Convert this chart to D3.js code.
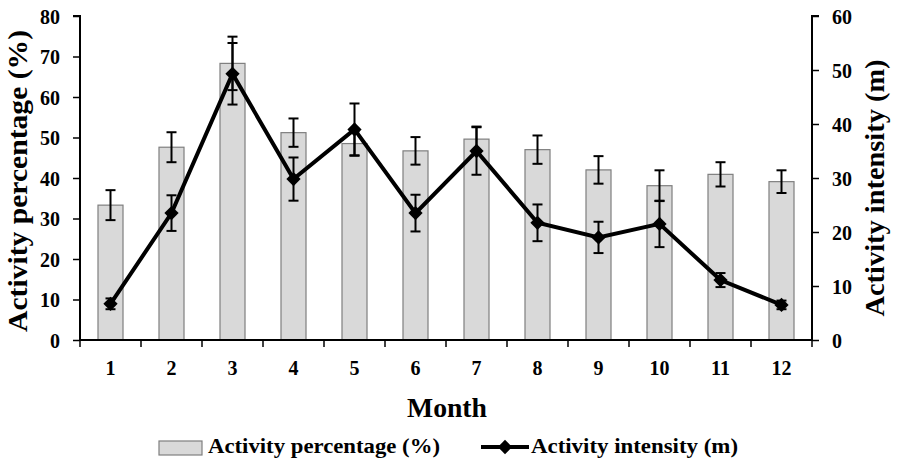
<!DOCTYPE html>
<html>
<head>
<meta charset="utf-8">
<script src="https://cdn.jsdelivr.net/npm/d3@7"></script>
<style>
  body { margin: 0; background: #fff; }
  svg text { font-family: "Liberation Serif", "Times New Roman", serif; font-weight: bold; fill: #000; }
</style>
</head>
<body>
<svg id="chart" width="898" height="464"></svg>
<script>
// données
const months = [1, 2, 3, 4, 5, 6, 7, 8, 9, 10, 11, 12];
const pctValues = [33.3, 47.6, 68.3, 51.2, 48.5, 46.7, 49.6, 47.0, 42.0, 38.1, 40.9, 39.1];
const pctErrors = [3.7, 3.7, 6.6, 3.5, 3.0, 3.4, 3.1, 3.5, 3.4, 3.8, 3.0, 2.8];
const intValues = [6.7, 23.5, 49.3, 29.8, 39.0, 23.5, 35.0, 21.7, 19.0, 21.5, 11.1, 6.5];
const intErrors = [1.0, 3.3, 5.7, 4.0, 4.8, 3.4, 4.4, 3.4, 2.9, 4.3, 1.3, 0.8];
const leftTicks = [0, 10, 20, 30, 40, 50, 60, 70, 80];
const rightTicks = [0, 10, 20, 30, 40, 50, 60];

const svg = d3.select("#chart");
const plot = { left: 80, right: 812, top: 16, bottom: 340 };

const x = d3.scaleBand()
    .domain(months)
    .range([plot.left, plot.right])
    .paddingInner(0)
    .paddingOuter(0);
const barW = x.bandwidth() * 0.41;

const yL = d3.scaleLinear().domain([0, 80]).range([plot.bottom, plot.top]);
const yR = d3.scaleLinear().domain([0, 60]).range([plot.bottom, plot.top]);

const cx = d => x(d) + x.bandwidth() / 2;

// barres
svg.append("g").selectAll("rect")
    .data(months)
    .enter()
    .append("rect")
    .attr("x", (d) => cx(d) - barW / 2)
    .attr("y", (d, i) => yL(pctValues[i]))
    .attr("width", barW)
    .attr("height", (d, i) => plot.bottom - yL(pctValues[i]))
    .attr("fill", "#d9d9d9")
    .attr("stroke", "#7f7f7f")
    .attr("stroke-width", 1.2);

function errorBars(values, errors, scale) {
    const g = svg.append("g").attr("stroke", "#000").attr("stroke-width", 2);
    months.forEach((m, i) => {
        const xc = cx(m);
        const top = scale(values[i] + errors[i]);
        const bot = scale(values[i] - errors[i]);
        g.append("line").attr("x1", xc).attr("x2", xc).attr("y1", top).attr("y2", bot);
        g.append("line").attr("x1", xc - 5).attr("x2", xc + 5).attr("y1", top).attr("y2", top);
        g.append("line").attr("x1", xc - 5).attr("x2", xc + 5).attr("y1", bot).attr("y2", bot);
    });
}
errorBars(pctValues, pctErrors, yL);
errorBars(intValues, intErrors, yR);

// ligne intensité
const line = d3.line()
    .x((d, i) => cx(months[i]))
    .y(d => yR(d));
svg.append("path")
    .datum(intValues)
    .attr("d", line)
    .attr("fill", "none")
    .attr("stroke", "#000")
    .attr("stroke-width", 4);

const diamond = d3.symbol().type(d3.symbolDiamond2).size(130);
svg.append("g").selectAll("path")
    .data(intValues)
    .enter()
    .append("path")
    .attr("d", diamond)
    .attr("transform", (d, i) => `translate(${cx(months[i])},${yR(d)})`)
    .attr("fill", "#000");

// axes
const axisL = svg.append("g")
    .attr("transform", `translate(${plot.left},0)`)
    .call(d3.axisLeft(yL).tickValues(leftTicks).tickSize(7).tickPadding(13));
const axisR = svg.append("g")
    .attr("transform", `translate(${plot.right},0)`)
    .call(d3.axisRight(yR).tickValues(rightTicks).tickSize(7).tickPadding(13));

const xTickPos = d3.range(months.length + 1).map(i => plot.left + i * x.bandwidth());
const axisX = svg.append("g");
axisX.append("line")
    .attr("x1", plot.left).attr("x2", plot.right)
    .attr("y1", plot.bottom).attr("y2", plot.bottom)
    .attr("stroke", "#000").attr("stroke-width", 2);
axisX.selectAll(".xt")
    .data(xTickPos)
    .enter()
    .append("line")
    .attr("x1", d => d).attr("x2", d => d)
    .attr("y1", plot.bottom).attr("y2", plot.bottom + 7)
    .attr("stroke", "#000").attr("stroke-width", 1.5);
axisX.selectAll("text")
    .data(months)
    .enter()
    .append("text")
    .attr("x", d => cx(d))
    .attr("y", 375)
    .attr("text-anchor", "middle")
    .style("font-size", "20px")
    .text(d => d);

[axisL, axisR].forEach(a => {
    a.select(".domain").attr("stroke", "#000").attr("stroke-width", 2);
    a.selectAll(".tick line").attr("stroke", "#000").attr("stroke-width", 1.5);
    a.selectAll(".tick text")
        .style("font-size", "20px")
        .style("font-family", "Liberation Serif")
        .style("font-weight", "bold")
        .attr("dy", "0.35em");
});
axisL.select(".domain").attr("d", `M-7,${plot.top}H0V${plot.bottom}`);
axisR.select(".domain").attr("d", `M7,${plot.top}H0V${plot.bottom}`);

// titres
svg.append("text")
    .attr("transform", "translate(27,181) rotate(-90)")
    .attr("text-anchor", "middle")
    .attr("textLength", 302).attr("lengthAdjust", "spacingAndGlyphs")
    .style("font-size", "27px")
    .text("Activity percentage (%)");
svg.append("text")
    .attr("transform", "translate(884,188) rotate(-90)")
    .attr("text-anchor", "middle")
    .attr("textLength", 257).attr("lengthAdjust", "spacingAndGlyphs")
    .style("font-size", "27px")
    .text("Activity intensity (m)");
svg.append("text")
    .attr("x", 447)
    .attr("y", 417)
    .attr("text-anchor", "middle")
    .attr("textLength", 80).attr("lengthAdjust", "spacingAndGlyphs")
    .style("font-size", "28px")
    .text("Month");

// légende
const leg = svg.append("g");
leg.append("rect")
    .attr("x", 159).attr("y", 441).attr("width", 43).attr("height", 14)
    .attr("fill", "#d9d9d9").attr("stroke", "#7f7f7f").attr("stroke-width", 1.2);
leg.append("text")
    .attr("x", 208).attr("y", 453)
    .attr("textLength", 232).attr("lengthAdjust", "spacingAndGlyphs")
    .style("font-size", "20px")
    .text("Activity percentage (%)");
leg.append("line")
    .attr("x1", 481).attr("x2", 529).attr("y1", 447).attr("y2", 447)
    .attr("stroke", "#000").attr("stroke-width", 4);
leg.append("path")
    .attr("d", diamond)
    .attr("transform", "translate(505,447)")
    .attr("fill", "#000");
leg.append("text")
    .attr("x", 531).attr("y", 453)
    .attr("textLength", 207).attr("lengthAdjust", "spacingAndGlyphs")
    .style("font-size", "20px")
    .text("Activity intensity (m)");
</script>
</body>
</html>
